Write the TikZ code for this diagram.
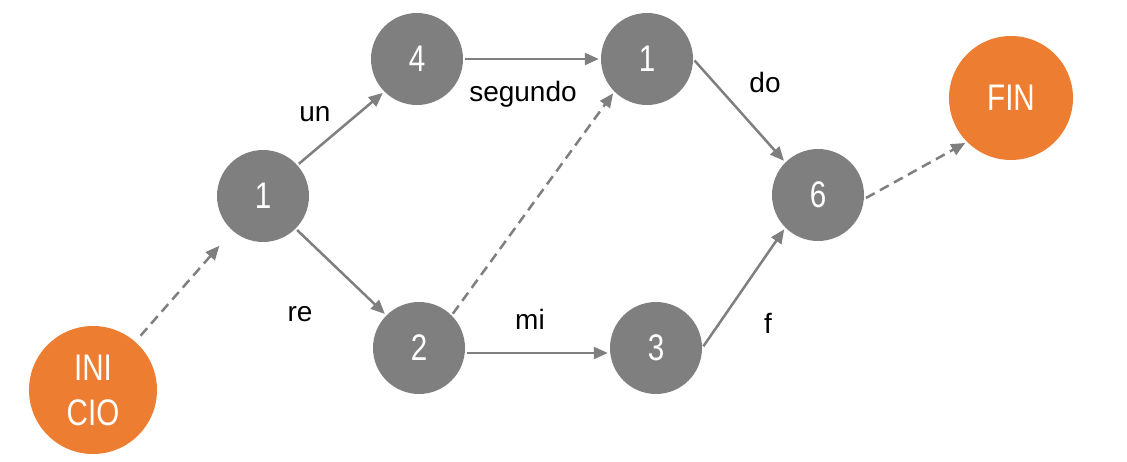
\documentclass[tikz,border=0pt]{standalone}
\usepackage{fontspec}
\setmainfont{Liberation Sans}
\newfontfamily\nodefont[FakeStretch=0.8]{Liberation Sans}
\usetikzlibrary{arrows.meta}
\definecolor{ngray}{HTML}{7F7F7F}
\definecolor{norange}{HTML}{ED7D31}
\tikzset{
  x=1pt, y=-1pt,
  gnode/.style={circle, fill=ngray, minimum size=92pt, inner sep=0pt, text=white, font=\nodefont\fontsize{37}{44}\selectfont},
  onode/.style={circle, fill=norange, minimum size=128pt, inner sep=0pt, text=white, align=center, font=\nodefont\fontsize{37}{45}\selectfont},
  conn/.style={draw=ngray, line width=2.5pt, -{Triangle[length=14pt,width=12pt]}, shorten <=2pt, shorten >=2pt},
  dconn/.style={conn, dash pattern=on 10pt off 6pt},
  lbl/.style={anchor=base, font=\fontsize{28}{32}\selectfont, text=black}
}
\begin{document}
\begin{tikzpicture}
\useasboundingbox (0,0) rectangle (1127,462);
\node[onode] (ini) at (93,390) {INI\\CIO};
\node[gnode] (a) at (263,196) {1};
\node[gnode] (b) at (417,59) {4};
\node[gnode] (c) at (647,59) {1};
\node[gnode] (d) at (419,348) {2};
\node[gnode] (e) at (656,348) {3};
\node[gnode] (f) at (818,195) {6};
\node[onode, minimum size=124pt] (fin) at (1011,98) {FIN};
\draw[dconn, shorten <=8pt, shorten >=20pt] (ini) -- (a);
\draw[conn] (a.42) -- (b.225);
\draw[conn] (a.-45) -- (d.135);
\draw[conn] (b.east) -- (c.west);
\draw[dconn] (d.45) -- (c.225);
\draw[conn] ([yshift=-5pt]d.east) -- ([yshift=-5pt]e.west);
\draw[conn] (c.east) -- (f.135);
\draw[conn] (e.east) -- (f.225);
\draw[dconn] ([yshift=-4pt]f.east) -- (fin.225);
\node[lbl] (l1) at (315,122) {un};
\node[lbl] (l2) at (523,102) {segundo};
\node[lbl] (l3) at (765,93) {do};
\node[lbl] (l4) at (300,321) {re};
\node[lbl] (l5) at (530,330) {mi};
\node[lbl] (l6) at (768,334) {f};
\end{tikzpicture}
\end{document}
